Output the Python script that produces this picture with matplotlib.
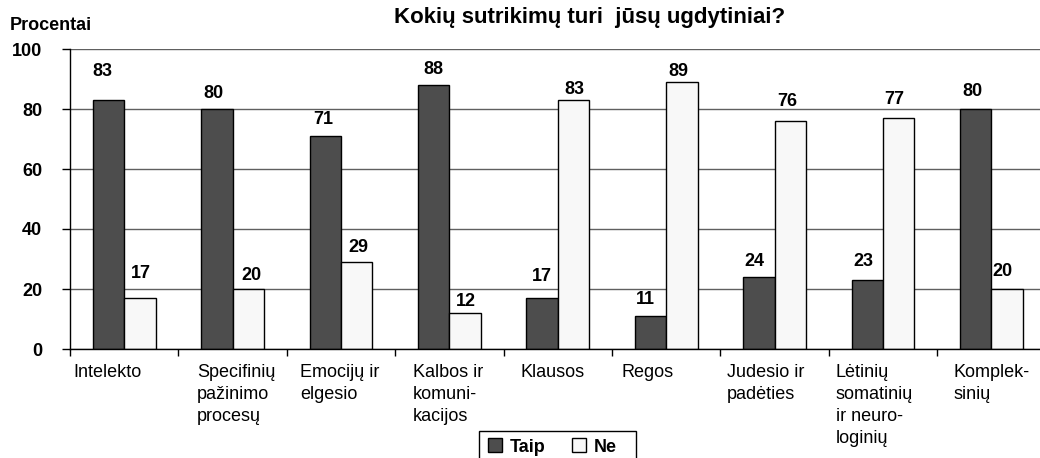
import matplotlib
matplotlib.use("Agg")
import matplotlib.pyplot as plt
from matplotlib.patches import Patch, Rectangle
import numpy as np

categories = ["Intelekto", "Specifinių\npažinimo\nprocesų", "Emocijų ir\nelgesio",
              "Kalbos ir\nkomuni-\nkacijos", "Klausos", "Regos", "Judesio ir\npadėties",
              "Lėtinių\nsomatinių\nir neuro-\nloginių", "Komplek-\nsinių"]
taip = [83, 80, 71, 88, 17, 11, 24, 23, 80]
ne = [17, 20, 29, 12, 83, 89, 76, 77, 20]
yticks = [0, 20, 40, 60, 80, 100]

# layout only: left offset of each category label within its slot (category units)
label_off = [0.03, 0.17, 0.12, 0.165, 0.16, 0.09, 0.06, 0.065, 0.146]
# layout only: value-label offsets (dx, dy) in pixels relative to bar top centre
taip_lab_off = [(-6, 28.5), (-3.5, 15.5), (-2.5, 16), (-0.5, 15.5), (-0.5, 21.5),
                (-5, 16.5), (-4.5, 16), (-4, 18.5), (-3, 18)]
ne_lab_off = [(0.5, 24), (3, 13.5), (1.5, 14.5), (1, 12), (0.5, 11),
              (-3.5, 10), (-3, 19.5), (-4.5, 18), (-4.5, 17.5)]

plt.rcParams['font.family'] = ['Liberation Sans', 'DejaVu Sans']

W, H = 1040, 458
PX = 72 / 100  # points per pixel
fig = plt.figure(figsize=(W / 100, H / 100), dpi=100)
ax = fig.add_axes([70 / W, 1 - 349 / H, 975.6 / W, 300 / H])

x = np.arange(len(categories))
bw = 0.29
b1 = ax.bar(x - bw / 2, taip, bw, color='#4d4d4d', edgecolor='black', linewidth=1, zorder=3)
b2 = ax.bar(x + bw / 2, ne, bw, color='#f8f8f8', edgecolor='black', linewidth=1, zorder=3)

for bars, vals, offs in ((b1, taip, taip_lab_off), (b2, ne, ne_lab_off)):
    for r, v, (dx, dy) in zip(bars, vals, offs):
        ax.annotate(str(v), (r.get_x() + r.get_width() / 2, v), xytext=(dx * PX, dy * PX),
                    textcoords='offset points', ha='center', va='center',
                    fontsize=13, fontweight='bold')

ax.set_xlim(-0.5, len(categories) - 0.5)
ax.set_ylim(0, 100)
ax.set_yticks(yticks)
ax.set_yticklabels([str(v) for v in yticks], fontsize=13, fontweight='bold')
ax.tick_params(axis='y', length=6, width=1, pad=14, direction='out')
ax.set_xticks(np.arange(len(categories) + 1) - 0.5)
ax.set_xticklabels([])
ax.tick_params(axis='x', length=5, width=1, direction='out')
ax.grid(axis='y', color='#606060', linewidth=1, zorder=0)
for s in ('top', 'right'):
    ax.spines[s].set_visible(False)
for s in ('left', 'bottom'):
    ax.spines[s].set_color('black')
    ax.spines[s].set_linewidth(1)
    ax.spines[s].set_zorder(4)

for i, lab in enumerate(categories):
    ax.text(i - 0.5 + label_off[i], -5.0, lab, ha='left', va='top', fontsize=13,
            linespacing=1.38, transform=ax.transData)

fig.text(590 / W, 1 - 17 / H, "Kokių sutrikimų turi  jūsų ugdytiniai?", ha='center',
         va='center', fontsize=16, fontweight='bold')
fig.text(10 / W, 1 - 25 / H, "Procentai", ha='left', va='center', fontsize=13,
         fontweight='bold')

# legend frame (extends past the bottom edge like the original)
fig.patches.append(Rectangle((479 / W, -10 / H), (636 - 479) / W, (458 - 431 + 10) / H,
                             transform=fig.transFigure, facecolor='white',
                             edgecolor='black', linewidth=1, zorder=5))
handles = [Patch(facecolor='#4d4d4d', edgecolor='black', label='Taip'),
           Patch(facecolor='#f8f8f8', edgecolor='black', label='Ne')]
leg = fig.legend(handles=handles, loc='center left', bbox_to_anchor=(488 / W, 1 - 447 / H),
                 ncol=2, frameon=False, prop={'size': 13, 'weight': 'bold'},
                 handlelength=0.8, handleheight=0.8, handletextpad=0.4,
                 columnspacing=1.45, borderpad=0, borderaxespad=0)
leg.set_zorder(6)

fig.savefig("out.png", dpi=100)
